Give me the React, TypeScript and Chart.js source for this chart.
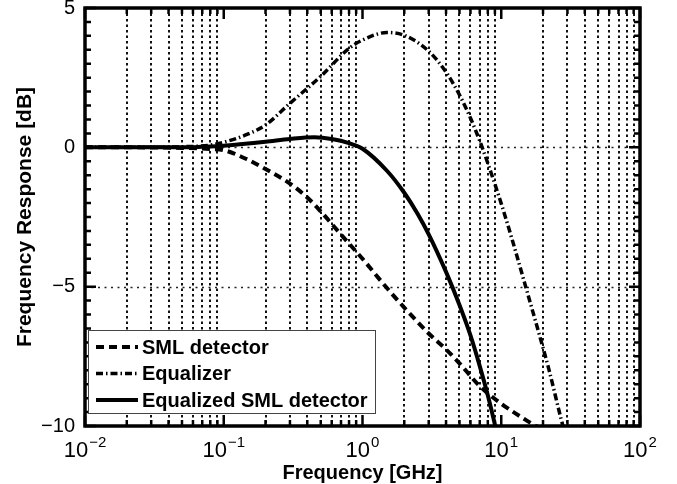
import React, { useEffect, useRef } from "react";
import { Chart, registerables } from "chart.js";

Chart.register(...registerables);

// ---- data ----
const smlFreq = [0.01, 0.02, 0.05, 0.08, 0.1, 0.15, 0.2, 0.3, 0.4, 0.5, 0.7, 1, 1.5, 2, 3, 4, 5, 7, 10, 15, 20];
const smlDb = [0, 0, -0.02, -0.06, -0.1, -0.45, -0.78, -1.3, -1.8, -2.3, -3.13, -4.0, -5.05, -5.75, -6.68, -7.25, -7.75, -8.57, -9.2, -9.78, -10.15];

const eqFreq = [0.01, 0.03, 0.05, 0.08, 0.1, 0.15, 0.2, 0.3, 0.5, 0.8, 1, 1.5, 2, 3, 4, 5, 6, 7, 8, 10, 12, 15, 19, 22, 27, 30];
const eqDb = [0, 0, 0.02, 0.08, 0.18, 0.48, 0.8, 1.58, 2.55, 3.55, 3.85, 4.12, 4.02, 3.45, 2.7, 1.88, 1.05, 0.23, -0.57, -2.02, -3.32, -5.0, -6.8, -7.95, -9.75, -10.6];

const eqzFreq = [0.01, 0.05, 0.08, 0.1, 0.2, 0.3, 0.45, 0.6, 0.8, 1, 1.5, 2, 2.5, 3, 4, 5, 6, 7, 8, 9, 10];
const eqzDb = [0, 0, 0.03, 0.06, 0.2, 0.3, 0.36, 0.3, 0.15, -0.05, -0.84, -1.63, -2.39, -3.12, -4.47, -5.66, -6.75, -7.85, -8.9, -9.95, -11.0];

const seriesLabels = ["SML detector", "Equalizer", "Equalized SML detector"];
const xTickExponents = [-2, -1, 0, 1, 2];
const xMinorMultipliers = [2, 3, 4, 5, 6, 7, 8, 9];
const yTickValues = [5, 0, -5, -10];
const yGridValues = [0, -5];
const yMinorStep = 0.5;

const FONT = '"Liberation Sans", Arial, sans-serif';

const dashes: number[][] = [[8, 5], [7, 3, 1.5, 3], []];
const widths = [4, 3.5, 4];

const toPts = (f: number[], v: number[]) => f.map((x, i) => ({ x, y: v[i] }));

const decorPlugin = {
  id: "decor",
  beforeDatasetsDraw(chart: any) {
    const { ctx, chartArea: a, scales } = chart;
    const xs = scales.x, ys = scales.y;
    ctx.save();
    // vertical minor grid lines
    ctx.strokeStyle = "#111";
    ctx.lineWidth = 2;
    ctx.setLineDash([2.5, 3]);
    for (let d = xTickExponents[0]; d < xTickExponents[xTickExponents.length - 1]; d++) {
      for (const m of xMinorMultipliers) {
        const px = Math.round(xs.getPixelForValue(m * Math.pow(10, d)));
        ctx.beginPath();
        ctx.moveTo(px, a.top);
        ctx.lineTo(px, a.bottom);
        ctx.stroke();
      }
    }
    // horizontal grid lines
    ctx.strokeStyle = "#222";
    ctx.lineWidth = 1.6;
    ctx.setLineDash([2, 4.5]);
    for (const v of yGridValues) {
      const py = Math.round(ys.getPixelForValue(v)) + 0.5;
      ctx.beginPath();
      ctx.moveTo(a.left, py);
      ctx.lineTo(a.right, py);
      ctx.stroke();
    }
    ctx.restore();
  },
  afterDatasetsDraw(chart: any) {
    const { ctx, chartArea: a, scales } = chart;
    const xs = scales.x, ys = scales.y;
    ctx.save();
    ctx.setLineDash([]);
    ctx.strokeStyle = "#000";
    // ticks
    ctx.lineWidth = 2.5;
    const vline = (px: number, len: number) => {
      ctx.beginPath();
      ctx.moveTo(px, a.bottom);
      ctx.lineTo(px, a.bottom - len);
      ctx.moveTo(px, a.top);
      ctx.lineTo(px, a.top + len);
      ctx.stroke();
    };
    const hline = (py: number, len: number) => {
      ctx.beginPath();
      ctx.moveTo(a.left, py);
      ctx.lineTo(a.left + len, py);
      ctx.moveTo(a.right, py);
      ctx.lineTo(a.right - len, py);
      ctx.stroke();
    };
    for (let d = xTickExponents[0]; d < xTickExponents[xTickExponents.length - 1]; d++) {
      for (const m of xMinorMultipliers) vline(xs.getPixelForValue(m * Math.pow(10, d)), 6);
    }
    for (const e of xTickExponents) vline(xs.getPixelForValue(Math.pow(10, e)), 11);
    const ymin = ys.min, ymax = ys.max;
    for (let v = ymin; v <= ymax + 1e-9; v += yMinorStep) {
      const major = yTickValues.includes(Math.round(v * 100) / 100);
      hline(ys.getPixelForValue(v), major ? 11 : 6);
    }
    // frame
    ctx.lineWidth = 3.5;
    ctx.strokeRect(a.left, a.top, a.right - a.left, a.bottom - a.top);

    // x tick labels (10 with superscript exponent)
    ctx.fillStyle = "#000";
    ctx.textBaseline = "alphabetic";
    for (const e of xTickExponents) {
      const px = xs.getPixelForValue(Math.pow(10, e));
      const base = "10";
      const sup = e < 0 ? "\u2212" + Math.abs(e) : String(e);
      ctx.font = `22px ${FONT}`;
      const wb = ctx.measureText(base).width;
      ctx.font = `15px ${FONT}`;
      const ws = ctx.measureText(sup).width;
      const start = px - (wb + ws + 1) / 2;
      ctx.font = `22px ${FONT}`;
      ctx.textAlign = "left";
      ctx.fillText(base, start, a.bottom + 31);
      ctx.font = `15px ${FONT}`;
      ctx.fillText(sup, start + wb + 1, a.bottom + 21);
    }

    // legend
    const bx = a.left + 3, by = a.bottom - 96, bw = 287, bh = 83;
    ctx.fillStyle = "#fff";
    ctx.fillRect(bx, by, bw, bh);
    ctx.strokeStyle = "#444";
    ctx.lineWidth = 1;
    ctx.strokeRect(bx + 0.5, by + 0.5, bw, bh);
    chart.data.datasets.forEach((ds: any, i: number) => {
      const cy = by + 17 + i * 26.5;
      ctx.strokeStyle = "#000";
      ctx.lineWidth = ds.borderWidth;
      ctx.setLineDash(ds.borderDash || []);
      ctx.beginPath();
      ctx.moveTo(bx + 8, cy);
      ctx.lineTo(bx + 50, cy);
      ctx.stroke();
      ctx.setLineDash([]);
      ctx.fillStyle = "#000";
      ctx.font = `bold 20px ${FONT}`;
      ctx.textAlign = "left";
      ctx.textBaseline = "middle";
      ctx.fillText(ds.label, bx + 54, cy + 1);
    });
    ctx.restore();
  },
};

export default function App() {
  const ref = useRef<HTMLCanvasElement>(null);
  useEffect(() => {
    if (!ref.current) return;
    const chart = new Chart(ref.current, {
      type: "line",
      data: {
        datasets: [
          { label: seriesLabels[0], data: toPts(smlFreq, smlDb) },
          { label: seriesLabels[1], data: toPts(eqFreq, eqDb) },
          { label: seriesLabels[2], data: toPts(eqzFreq, eqzDb) },
        ].map((d, i) => ({
          ...d,
          borderColor: "#000",
          backgroundColor: "#000",
          borderWidth: widths[i],
          borderDash: dashes[i],
          pointRadius: 0,
          fill: false,
          cubicInterpolationMode: "monotone" as const,
          borderCapStyle: "butt" as const,
        })),
      },
      options: {
        animation: false,
        responsive: false,
        layout: { padding: { top: 8, right: 37, left: 0, bottom: 0 } },
        plugins: { legend: { display: false }, tooltip: { enabled: false } },
        scales: {
          x: {
            type: "logarithmic",
            min: 0.01,
            max: 100,
            grid: { display: false, drawTicks: false },
            border: { display: false },
            ticks: { display: false },
            title: {
              display: true,
              text: "Frequency [GHz]",
              font: { family: FONT, size: 20, weight: "bold", lineHeight: 1 },
              color: "#000",
              padding: { top: 0, bottom: 1 },
            },
            afterFit: (s: any) => {
              s.height = 58;
              s.paddingLeft = 0;
              s.paddingRight = 0;
            },
          },
          y: {
            type: "linear",
            min: -10,
            max: 5,
            grid: { display: false, drawTicks: false },
            border: { display: false },
            ticks: {
              stepSize: 5,
              padding: 10,
              color: "#000",
              font: { family: FONT, size: 20 },
              callback: (v: any) => String(v).replace("-", "\u2212"),
            },
            title: {
              display: true,
              text: "Frequency Response [dB]",
              font: { family: FONT, size: 21, weight: "bold", lineHeight: 1 },
              color: "#000",
              padding: { top: 15, bottom: 0 },
            },
            afterFit: (s: any) => {
              s.width = 85;
              s.paddingTop = 0;
              s.paddingBottom = 0;
            },
          },
        },
      },
      plugins: [decorPlugin],
    });
    return () => chart.destroy();
  }, []);
  return (
    <div style={{ position: "fixed", left: 0, top: 0, width: 677, height: 484, background: "#fff" }}>
      <canvas ref={ref} width={677} height={484} style={{ display: "block" }} />
    </div>
  );
}
